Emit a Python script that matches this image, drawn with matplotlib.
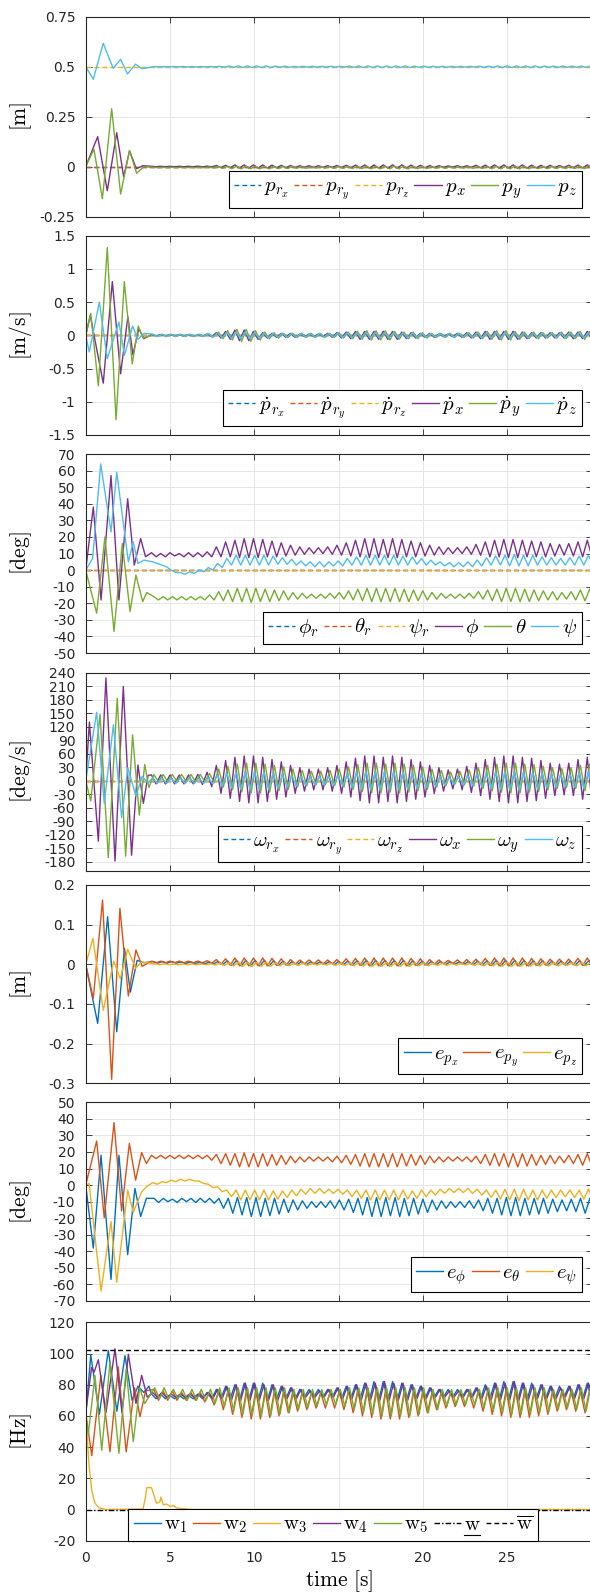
import numpy as np
import matplotlib.pyplot as plt
from matplotlib.lines import Line2D
from matplotlib.mathtext import MathTextParser

# sampled extrema: transient part listed point by point, then the steady
# oscillation as (peak, trough) pairs every HALF seconds from T_SS on
T_END = 30.0
T_SS = 3.9
HALF = 0.275
t_ref = [0.0, T_END]

# ---------------- position [m] ----------------
p_ref = [0.0, 0.0, 0.5]
px_t = [0, 0.71, 1.28, 1.84, 2.25, 2.6, 3.0, 3.4]
px_v = [0, 0.15, -0.12, 0.17, -0.05, 0.08, -0.01, 0.005]
px_hi = [.002, .002, .002, .002, .002, .003, .003, .006, .007, .009, .009, .009,
         .009, .008, .007, .006, .005, .005, .005, .005, .006, .007, .008, .009,
         .009, .009, .009, .009, .008, .007, .006, .005, .004, .005, .005, .007,
         .008, .009, .009, .009, .009, .008, .007, .007, .006, .007, .008, .009]
px_lo = [0, 0, 0, 0, 0, -.001, -.001, -.004, -.005, -.007, -.007, -.007,
         -.007, -.006, -.005, -.004, -.003, -.003, -.003, -.003, -.004, -.005, -.006, -.007,
         -.007, -.007, -.007, -.007, -.006, -.005, -.004, -.003, -.002, -.003, -.003, -.005,
         -.006, -.007, -.007, -.007, -.007, -.006, -.005, -.005, -.004, -.005, -.006, -.007]
py_t = [0, 0.49, 0.99, 1.54, 2.07, 2.6, 3.02, 3.45]
py_v = [0, 0.087, -0.16, 0.29, -0.137, 0.08, -0.033, 0.0]
py_hi = [-.003, -.003, -.003, -.003, -.003, -.003, -.002, 0, .002, .003, .003, .003,
         .003, .002, .001, 0, 0, -.001, -.001, 0, 0, .001, .002, .003,
         .003, .003, .003, .003, .002, .001, 0, 0, -.001, -.001, 0, .001,
         .002, .003, .003, .003, .003, .002, .002, .001, .001, .001, .002, .003]
py_lo = [-.005, -.005, -.005, -.005, -.005, -.005, -.006, -.008, -.010, -.011, -.011, -.011,
         -.011, -.010, -.009, -.008, -.008, -.007, -.007, -.008, -.008, -.009, -.010, -.011,
         -.011, -.011, -.011, -.011, -.010, -.009, -.008, -.008, -.007, -.007, -.008, -.009,
         -.010, -.011, -.011, -.011, -.011, -.010, -.010, -.009, -.009, -.009, -.010, -.011]
pz_t = [0, 0.45, 1.04, 1.63, 2.07, 2.48, 2.96, 3.32]
pz_v = [0.5, 0.437, 0.617, 0.492, 0.537, 0.464, 0.513, 0.49]
pz_hi = [.501, .501, .501, .501, .501, .501, .501, .502, .503, .504, .504, .504,
         .504, .503, .503, .502, .502, .502, .502, .502, .502, .503, .504, .504,
         .504, .504, .504, .504, .503, .503, .502, .502, .502, .502, .502, .503,
         .503, .504, .504, .504, .504, .504, .503, .503, .503, .503, .503, .504]
pz_lo = [.499, .499, .499, .499, .499, .499, .499, .498, .497, .496, .496, .496,
         .496, .497, .497, .498, .498, .498, .498, .498, .498, .497, .496, .496,
         .496, .496, .496, .496, .497, .497, .498, .498, .498, .498, .498, .497,
         .497, .496, .496, .496, .496, .496, .497, .497, .497, .497, .497, .496]

# ---------------- velocity [m/s] ----------------
v_ref = [0.0, 0.0, 0.0]
vx_t = [0, 0.27, 1.04, 1.58, 2.07, 2.5, 2.8, 3.15, 3.45]
vx_v = [0, 0.3, -0.72, 0.81, -0.58, 0.28, -0.29, 0.1, -0.05]
vx_hi = [.01, .01, .01, .01, .01, .01, .02, .04, .06, .08, .08, .06,
         .04, .03, .03, .03, .02, .02, .02, .03, .04, .05, .06, .06,
         .06, .06, .06, .05, .04, .03, .03, .02, .02, .03, .04, .05,
         .06, .06, .06, .06, .05, .04, .04, .04, .04, .05, .05, .06]
vx_lo = [-.01, -.01, -.01, -.01, -.01, -.01, -.02, -.04, -.06, -.08, -.08, -.06,
         -.04, -.03, -.03, -.03, -.02, -.02, -.02, -.03, -.04, -.05, -.06, -.06,
         -.06, -.06, -.06, -.05, -.04, -.03, -.03, -.02, -.02, -.03, -.04, -.05,
         -.06, -.06, -.06, -.06, -.05, -.04, -.04, -.04, -.04, -.05, -.05, -.06]
vy_t = [0, 0.3, 0.75, 1.28, 1.8, 2.29, 2.76, 3.12, 3.4]
vy_v = [0, 0.33, -0.76, 1.32, -1.27, 0.81, -0.43, 0.14, -0.04]
vy_hi = [.01, .01, .01, .01, .01, .01, .02, .05, .07, .09, .09, .07,
         .05, .04, .03, .03, .03, .03, .03, .03, .04, .05, .06, .07,
         .07, .07, .06, .05, .05, .04, .03, .03, .03, .03, .04, .05,
         .06, .07, .07, .06, .05, .05, .04, .04, .05, .05, .06, .06]
vy_lo = [-.01, -.01, -.01, -.01, -.01, -.01, -.02, -.05, -.07, -.09, -.09, -.07,
         -.05, -.04, -.03, -.03, -.03, -.03, -.03, -.03, -.04, -.05, -.06, -.07,
         -.07, -.07, -.06, -.05, -.05, -.04, -.03, -.03, -.03, -.03, -.04, -.05,
         -.06, -.07, -.07, -.06, -.05, -.05, -.04, -.04, -.05, -.05, -.06, -.06]
vz_t = [0, 0.21, 0.81, 1.28, 1.97, 2.3, 2.78, 3.1, 3.45]
vz_v = [0, -0.25, 0.5, -0.35, 0.2, -0.3, 0.14, -0.06, 0.03]
vz_hi = [.02, .02, .02, .02, .02, .02, .03, .035, .045, .05, .05, .045,
         .035, .03, .03, .03, .03, .03, .03, .03, .035, .04, .04, .045,
         .045, .04, .04, .04, .035, .03, .03, .03, .03, .03, .035, .04,
         .04, .045, .045, .04, .04, .035, .035, .035, .035, .04, .04, .04]
vz_lo = [-.02, -.02, -.02, -.02, -.02, -.02, -.03, -.035, -.045, -.05, -.05, -.045,
         -.035, -.03, -.03, -.03, -.03, -.03, -.03, -.03, -.035, -.04, -.04, -.045,
         -.045, -.04, -.04, -.04, -.035, -.03, -.03, -.03, -.03, -.03, -.035, -.04,
         -.04, -.045, -.045, -.04, -.04, -.035, -.035, -.035, -.035, -.04, -.04, -.04]

# ---------------- attitude [deg] ----------------
a_ref = [0.0, 0.0, 0.0]
phi_t = [0, 0.45, 0.91, 1.5, 1.97, 2.49, 2.88, 3.26, 3.55]
phi_v = [0, 38, -18, 57, -18, 43, 3, 19, 8]
phi_hi = [10.5, 10, 10.5, 10, 10.5, 10.5, 11, 14, 17, 18, 19, 19,
          18.5, 17.5, 16.5, 15, 14, 13.5, 13.5, 14, 15, 16.5, 18, 19,
          19, 18.5, 19, 18.5, 17.5, 16.5, 15, 14, 13.5, 13.5, 14, 15.5,
          17, 18, 18.5, 18.5, 18, 17.5, 17, 16, 15.5, 16, 17, 18]
phi_lo = [8, 8, 8.5, 8, 8, 8, 8, 8, 8, 7.5, 7.5, 7.5,
          8, 8, 8.5, 9, 9.5, 10, 10, 9.5, 9, 8.5, 8, 7.5,
          7.5, 7.5, 7.5, 8, 8, 8.5, 9, 9.5, 10, 10, 9.5, 9,
          8, 8, 7.5, 7.5, 8, 8, 8, 8.5, 9, 8.5, 8, 8]
th_t = [0, 0.65, 1.14, 1.68, 2.17, 2.63, 2.98, 3.38, 3.62]
th_v = [0, -26, 20, -37, 16, -25, -3, -19, -13.5]
th_hi = [-16, -16, -16, -16, -16, -16, -15, -13, -12, -11, -11, -11,
         -11.5, -12, -12.5, -13.5, -14, -14.5, -14.5, -14, -13.5, -12.5, -11.5, -11,
         -11, -11, -11, -11.5, -12, -12.5, -13.5, -14, -14.5, -14.5, -14, -13,
         -12, -11.5, -11, -11, -11.5, -12, -12.5, -13, -13.5, -13, -12, -11.5]
th_lo = [-18, -18, -18, -18, -18, -18, -18, -18.5, -19, -19, -19.5, -19,
         -19, -18.5, -18, -17.5, -17, -17, -17, -17, -17.5, -18, -18.5, -19,
         -19, -19, -19, -19, -18.5, -18, -17.5, -17, -17, -17, -17, -17.5,
         -18.5, -19, -19, -19, -19, -18.5, -18, -18, -17.5, -18, -18.5, -19]
psi_t = [0, 0.41, 0.89, 1.5, 1.84, 2.53, 2.82, 3.1, 3.45]
psi_v = [0, 7, 64, 23, 59, 5, 17, 4, 6]
psi_hi = [5, 3, 0, -1.5, -1, 0, 1.5, 4, 7, 9, 9, 9,
          9, 8.5, 7.5, 6.5, 5.5, 5, 5, 5, 5.5, 7, 8, 9,
          9, 9, 9, 8.5, 8, 7, 6, 5, 4.5, 4.5, 5, 6,
          7.5, 8.5, 9, 9.5, 9, 9, 8, 7.5, 7, 7.5, 8.5, 9]
psi_lo = [4, 2, -1.5, -2.5, -2, -1, 0, 1.5, 3, 3, 3, 3,
          3, 3.5, 3.5, 3, 2.5, 2, 2, 2.5, 2.5, 3, 3, 3,
          3, 3, 3, 3, 3.5, 3, 3, 2.5, 2, 2, 2, 2.5,
          3, 3, 2.5, 2.5, 2.5, 3, 3, 3, 3, 3, 3, 2.5]

# ---------------- body rates [deg/s] ----------------
w_ref = [0.0, 0.0, 0.0]
wx_t = [0, 0.22, 0.75, 1.2, 1.74, 2.23, 2.72, 3.1, 3.42, 3.7]
wx_v = [0, 130, -134, 228, -178, 209, -165, 35, -50, 12]
wx_hi = [13, 13, 13, 13, 13, 14, 19, 34, 45, 52, 55, 55,
         52, 47, 42, 34, 29, 26, 26, 29, 34, 42, 50, 55,
         55, 52, 55, 52, 47, 42, 34, 29, 24, 26, 32, 39,
         47, 52, 55, 55, 52, 50, 45, 39, 37, 39, 47, 52]
wx_lo = [-7, -7, -7, -7, -7, -8, -13, -28, -39, -46, -49, -49,
         -46, -41, -36, -28, -23, -20, -20, -23, -28, -36, -44, -49,
         -49, -46, -49, -46, -41, -36, -28, -23, -18, -20, -26, -33,
         -41, -46, -49, -49, -46, -44, -39, -33, -31, -33, -41, -46]
wy_t = [0, 0.3, 0.85, 1.34, 1.87, 2.37, 2.78, 3.18, 3.5, 3.75]
wy_v = [0, -45, 147, -170, 183, -167, 102, -76, 36, -15]
wy_hi = [14, 14, 14, 14, 14, 14, 16, 26, 32, 37, 39, 39,
         37, 34, 31, 26, 23, 21, 21, 23, 26, 31, 36, 39,
         39, 37, 39, 37, 34, 31, 26, 23, 19, 21, 24, 29,
         34, 37, 39, 39, 37, 36, 32, 29, 27, 29, 34, 37]
wy_lo = [-2, -2, -2, -2, -2, -2, -4, -14, -20, -25, -27, -27,
         -25, -22, -19, -14, -11, -9, -9, -11, -14, -19, -24, -27,
         -27, -25, -27, -25, -22, -19, -14, -11, -7, -9, -12, -17,
         -22, -25, -27, -27, -25, -24, -20, -17, -15, -17, -22, -25]
wz_t = [0, 0.65, 1.1, 1.64, 2.13, 2.5, 2.98, 3.35, 3.7]
wz_v = [0, 152, -50, 124, -82, 29, -34, 10, -5]
wz_hi = [6, 6, 6, 6, 6, 6, 7, 12, 16, 19, 20, 20,
         19, 17, 15, 12, 10, 9, 9, 10, 12, 15, 18, 20,
         20, 19, 20, 19, 17, 15, 12, 10, 8, 9, 11, 14,
         17, 19, 20, 20, 19, 18, 16, 14, 13, 14, 17, 19]
wz_lo = [-6, -6, -6, -6, -6, -6, -7, -12, -16, -19, -20, -20,
         -19, -17, -15, -12, -10, -9, -9, -10, -12, -15, -18, -20,
         -20, -19, -20, -19, -17, -15, -12, -10, -8, -9, -11, -14,
         -17, -19, -20, -20, -19, -18, -16, -14, -13, -14, -17, -19]

# ---------------- position error [m] ----------------
epx_t = [0, 0.71, 1.3, 1.84, 2.3, 2.65, 3.05, 3.45]
epx_v = [0, -0.149, 0.12, -0.17, 0.04, -0.07, 0.01, 0.004]
epx_hi = [.007, .007, .007, .006, .006, .005, .005, .007, .009, .010, .010, .010,
          .010, .009, .008, .007, .007, .006, .006, .007, .007, .008, .009, .010,
          .010, .010, .010, .010, .009, .008, .007, .007, .006, .006, .007, .008,
          .009, .010, .010, .010, .010, .009, .009, .008, .008, .008, .009, .010]
epx_lo = [.003, .003, .003, .002, .002, .001, .001, -.001, -.003, -.004, -.004, -.004,
          -.004, -.003, -.002, -.001, -.001, 0, 0, -.001, -.001, -.002, -.003, -.004,
          -.004, -.004, -.004, -.004, -.003, -.002, -.001, -.001, 0, 0, -.001, -.002,
          -.003, -.004, -.004, -.004, -.004, -.003, -.003, -.002, -.002, -.002, -.003, -.004]
epy_t = [0, 0.45, 1.0, 1.54, 2.03, 2.53, 2.98, 3.35]
epy_v = [0, -0.086, 0.162, -0.29, 0.141, -0.08, 0.036, -0.005]
epy_hi = [.008, .008, .008, .008, .008, .008, .009, .012, .014, .016, .016, .016,
          .016, .015, .014, .012, .011, .011, .011, .011, .012, .014, .015, .016,
          .016, .016, .016, .016, .015, .014, .012, .011, .010, .011, .012, .013,
          .015, .016, .016, .016, .016, .015, .014, .013, .013, .013, .015, .016]
epy_lo = [.004, .004, .004, .004, .004, .004, .003, 0, -.002, -.004, -.004, -.004,
          -.004, -.003, -.002, 0, .001, .001, .001, .001, 0, -.002, -.003, -.004,
          -.004, -.004, -.004, -.004, -.003, -.002, 0, .001, .002, .001, 0, -.001,
          -.003, -.004, -.004, -.004, -.004, -.003, -.002, -.001, -.001, -.001, -.003, -.004]
epz_t = [0, 0.43, 1.04, 1.66, 2.05, 2.49, 2.96, 3.32]
epz_v = [0, 0.065, -0.116, 0.008, -0.036, 0.038, -0.01, 0.006]
epz_hi = [.001, .001, .001, .001, .001, .001, .002, .003, .004, .005, .005, .005,
          .005, .004, .004, .003, .003, .002, .002, .003, .003, .004, .005, .005,
          .005, .005, .005, .005, .004, .004, .003, .003, .002, .002, .003, .004,
          .004, .005, .005, .005, .005, .005, .004, .004, .003, .004, .004, .005]
epz_lo = [-.001, -.001, -.001, -.001, -.001, -.001, -.002, -.003, -.004, -.005, -.005, -.005,
          -.005, -.004, -.004, -.003, -.003, -.002, -.002, -.003, -.003, -.004, -.005, -.005,
          -.005, -.005, -.005, -.005, -.004, -.004, -.003, -.003, -.002, -.002, -.003, -.004,
          -.004, -.005, -.005, -.005, -.005, -.005, -.004, -.004, -.003, -.004, -.004, -.005]

# ---------------- attitude error [deg] ----------------
ephi_t = [0, 0.45, 0.91, 1.5, 1.97, 2.49, 2.92, 3.26, 3.6]
ephi_v = [0, -38, 18, -57, 18, -42, -2, -19, -8]
ephi_hi = [-8, -8, -8.5, -8, -8, -8, -8, -8, -8, -7.5, -7.5, -7.5,
           -8, -8, -8.5, -9, -9.5, -10, -10, -9.5, -9, -8.5, -8, -7.5,
           -7.5, -7.5, -7.5, -8, -8, -8.5, -9, -9.5, -10, -10, -9.5, -9,
           -8, -8, -7.5, -7.5, -8, -8, -8, -8.5, -9, -8.5, -8, -8]
ephi_lo = [-10.5, -10, -10.5, -10, -10.5, -10.5, -11, -14, -17, -18, -19, -19,
           -18.5, -17.5, -16.5, -15, -14, -13.5, -13.5, -14, -15, -16.5, -18, -19,
           -19, -18.5, -19, -18.5, -17.5, -16.5, -15, -14, -13.5, -13.5, -14, -15.5,
           -17, -18, -18.5, -18.5, -18, -17.5, -17, -16, -15.5, -16, -17, -18]
eth_t = [0, 0.65, 1.1, 1.68, 2.13, 2.59, 2.96, 3.32, 3.6]
eth_v = [0, 26.6, -19.7, 37.7, -15.6, 25.2, 3, 19.6, 13]
eth_hi = [18, 18, 18, 18, 18, 18, 18, 18.5, 19, 19, 19.5, 19,
          19, 18.5, 18, 17.5, 17, 17, 17, 17, 17.5, 18, 18.5, 19,
          19, 19, 19, 19, 18.5, 18, 17.5, 17, 17, 17, 17, 17.5,
          18.5, 19, 19, 19, 19, 18.5, 18, 18, 17.5, 18, 18.5, 19]
eth_lo = [16, 16, 16, 16, 16, 16, 15, 13, 12, 11, 11, 11,
          11.5, 12, 12.5, 13.5, 14, 14.5, 14.5, 14, 13.5, 12.5, 11.5, 11,
          11, 11, 11, 11.5, 12, 12.5, 13.5, 14, 14.5, 14.5, 14, 13,
          12, 11.5, 11, 11, 11.5, 12, 12.5, 13, 13.5, 13, 12, 11.5]
epsi_t = [0, 0.2, 0.91, 1.5, 1.84, 2.49, 2.82, 3.32, 3.6]
epsi_v = [0, 1, -64, -22, -58.7, -3, -16.4, -4, -1]
epsi_hi = [1.5, 2, 3, 3.5, 3.5, 2.5, 0.5, -1, -3, -3, -3, -3,
           -3, -3.5, -3.5, -3, -2.5, -2, -2, -2.5, -2.5, -3, -3, -3,
           -3, -3, -3, -3, -3.5, -3, -3, -2.5, -2, -2, -2, -2.5,
           -3, -3, -2.5, -2.5, -2.5, -3, -3, -3, -3, -3, -3, -2.5]
epsi_lo = [0.5, 1.5, 2, 2.5, 2.5, 1, -1.5, -4, -7, -9, -9, -9,
           -9, -8.5, -7.5, -6.5, -5.5, -5, -5, -5, -5.5, -7, -8, -9,
           -9, -9, -9, -8.5, -8, -7, -6, -5, -4.5, -4.5, -5, -6,
           -7.5, -8.5, -9, -9.5, -9, -9, -8, -7.5, -7, -7.5, -8.5, -9]

# ---------------- rotor speeds [Hz] ----------------
w_min = 0.0
w_max = 102.0
w1_t = [0, 0.3, 0.81, 1.34, 1.85, 2.33, 2.75, 3.1, 3.45, 3.75]
w1_v = [60, 99, 61, 102, 63, 98.6, 70, 79, 75, 79]
w1_hi = [74, 74, 73, 73, 73, 74, 75, 77, 79, 80, 81, 81,
         81, 80, 79, 78, 77, 77, 77, 77, 78, 79, 80, 81,
         82, 82, 82, 81, 80, 79, 78, 77, 77, 77, 77, 78,
         80, 81, 82, 82, 81, 81, 80, 79, 79, 79, 80, 81]
w1_lo = [71, 71, 71, 71, 71, 71, 71, 71, 71, 70, 70, 70,
         70, 71, 71, 71, 72, 72, 72, 72, 71, 71, 71, 70,
         70, 70, 70, 70, 71, 71, 72, 72, 72, 72, 72, 71,
         71, 70, 70, 70, 70, 71, 71, 71, 72, 71, 71, 70]
w2_t = [0, 0.36, 0.9, 1.44, 1.93, 2.4, 2.9, 3.22, 3.55]
w2_v = [62, 34.5, 86, 37, 91.5, 37, 78, 59.5, 76]
w2_hi = [77, 76, 76, 75, 75, 75, 75, 76, 76, 77, 77, 77,
         76, 76, 76, 76, 75, 75, 75, 75, 76, 76, 77, 77,
         77, 77, 77, 76, 76, 76, 75, 75, 75, 75, 75, 76,
         76, 77, 77, 77, 77, 76, 76, 76, 76, 76, 76, 77]
w2_lo = [70, 70, 70, 70, 70, 69, 67, 64, 61, 59, 58, 58,
         59, 60, 62, 63, 64, 65, 65, 65, 64, 62, 60, 59,
         58, 58, 58, 59, 60, 62, 64, 65, 66, 66, 65, 63,
         61, 60, 59, 59, 59, 60, 61, 63, 64, 63, 62, 61]
w3_t = [0, 0.1, 0.2, 0.36, 0.55, 0.8, 1.2, 3.4, 3.55, 3.62, 3.9, 4.2, 4.4,
        4.46, 4.6, 4.8, 5.0, 5.2, 5.4, 6.0, 6.5, 30]
w3_v = [58, 45, 28, 12, 4, 1, 0, 0.3, 8, 14, 14, 4, 5, 8, 3, 3.5, 2, 2.5, 1, 0.3, 0, 0]
w4_t = [0, 0.35, 0.5, 0.75, 1.2, 1.74, 2.15, 2.53, 2.98, 3.32, 3.65]
w4_v = [62, 91, 88, 96, 62, 103, 62, 99.5, 68, 86, 72]
w4_hi = [75, 75, 74, 74, 74, 74, 75, 77, 79, 80, 81, 81,
         80, 80, 79, 78, 77, 76, 76, 77, 78, 79, 80, 81,
         81, 82, 81, 81, 80, 79, 78, 77, 76, 76, 77, 78,
         79, 81, 81, 82, 81, 80, 80, 79, 78, 79, 80, 81]
w4_lo = [72, 72, 72, 72, 72, 72, 71, 71, 70, 70, 70, 70,
         70, 70, 71, 71, 72, 72, 72, 72, 71, 71, 70, 70,
         70, 70, 70, 70, 71, 71, 72, 72, 72, 72, 72, 71,
         70, 70, 70, 70, 70, 71, 71, 71, 72, 71, 71, 70]
w5_t = [0, 0.15, 0.55, 0.95, 1.44, 1.97, 2.4, 2.82, 3.2, 3.5]
w5_v = [60, 48, 86, 38, 94, 36, 90, 43.5, 78, 68]
w5_hi = [78, 78, 77, 77, 77, 77, 77, 78, 78, 78, 78, 78,
         78, 78, 78, 77, 77, 77, 77, 77, 77, 78, 78, 78,
         78, 78, 78, 78, 78, 78, 77, 77, 77, 77, 77, 77,
         78, 78, 78, 78, 78, 78, 78, 77, 77, 77, 78, 78]
w5_lo = [71, 71, 71, 70, 70, 70, 68, 66, 63, 61, 60, 60,
         60, 61, 62, 64, 65, 66, 67, 67, 66, 64, 62, 61,
         60, 60, 60, 60, 61, 62, 64, 66, 67, 67, 67, 65,
         63, 62, 61, 61, 61, 62, 63, 64, 65, 64, 63, 62]

# ---------------- style ----------------
BLUE, ORANGE, YELLOW = '#0072BD', '#D95319', '#EDB120'
PURPLE, GREEN, LBLUE = '#7E2F8E', '#77AC30', '#4DBEEE'
DASH = (0, (3.5, 2.2))
W, H = 590, 1595
LEFT, RIGHT = 85.7, 591.5
ROWS = [(16.7, 216.7), (235.7, 435), (454, 653), (672.5, 871),
        (885, 1083.3), (1102.3, 1301), (1322.3, 1540.7)]

plt.rcParams['font.family'] = ['DejaVu Sans']
plt.rcParams['mathtext.fontset'] = 'cm'
plt.rcParams['axes.unicode_minus'] = False


def trace(t_tr, v_tr, hi, lo, shift=0.0):
    ts = T_SS + shift + HALF * np.arange(2 * len(hi))
    vs = np.column_stack([hi, lo]).ravel()
    return np.concatenate([t_tr, ts]), np.concatenate([v_tr, vs])


def style_axes(ax, ylim, yticks, ylabels, ylabel, last=False):
    ax.set_xlim(0, T_END)
    ax.set_ylim(*ylim)
    ax.set_xticks([0, 5, 10, 15, 20, 25])
    ax.set_yticks(yticks)
    ax.set_yticklabels(ylabels)
    if not last:
        ax.set_xticklabels([])
    ax.tick_params(direction='in', top=True, right=True, length=4.5, width=0.6,
                   labelsize=10, pad=7.5, colors='#262626')
    ax.grid(True, color='#e6e6e6', lw=0.7)
    ax.set_axisbelow(True)
    for s in ax.spines.values():
        s.set_linewidth(0.8)
        s.set_color('#262626')
    ax.set_ylabel(ylabel, fontsize=15.5)
    ax.yaxis.set_label_coords(-0.102, 0.5)


def add_legend(ax, rows, loc='lower right', anchor=None):
    top, bot = rows
    if anchor is None:
        anchor = (0.981, 9.0 / (bot - top))
    n = len(ax.get_legend_handles_labels()[0])
    leg = ax.legend(loc=loc, bbox_to_anchor=anchor, ncol=n, fontsize=15,
                    handlelength=1.3, handletextpad=0.15, columnspacing=0.25,
                    borderpad=0.25, borderaxespad=0, fancybox=False,
                    framealpha=1, edgecolor='black')
    leg.get_frame().set_linewidth(0.8)
    return leg


def main():
    fig = plt.figure(figsize=(W / 100, H / 100), dpi=100)
    axes = []
    for top, bot in ROWS:
        axes.append(fig.add_axes([LEFT / W, 1 - bot / H, (RIGHT - LEFT) / W, (bot - top) / H]))
    lw = 1.0

    # position
    ax = axes[0]
    for val, c, lab in zip(p_ref, [BLUE, ORANGE, YELLOW],
                           [r'$p_{r_x}$', r'$p_{r_y}$', r'$p_{r_z}$']):
        ax.plot(t_ref, [val, val], color=c, ls=DASH, lw=lw, label=lab)
    for (tt, vv, hi, lo, sh), c, lab in zip(
            [(px_t, px_v, px_hi, px_lo, 0.0), (py_t, py_v, py_hi, py_lo, 0.1),
             (pz_t, pz_v, pz_hi, pz_lo, 0.2)],
            [PURPLE, GREEN, LBLUE], [r'$p_x$', r'$p_y$', r'$p_z$']):
        ax.plot(*trace(tt, vv, hi, lo, sh), color=c, lw=lw, label=lab)
    style_axes(ax, (-0.25, 0.75), [-0.25, 0, 0.25, 0.5, 0.75],
               ['-0.25', '0', '0.25', '0.5', '0.75'], r'$[\mathrm{m}]$')
    add_legend(ax, ROWS[0])

    # velocity
    ax = axes[1]
    for val, c, lab in zip(v_ref, [BLUE, ORANGE, YELLOW],
                           [r'$\dot{p}_{r_x}$', r'$\dot{p}_{r_y}$', r'$\dot{p}_{r_z}$']):
        ax.plot(t_ref, [val, val], color=c, ls=DASH, lw=lw, label=lab)
    for (tt, vv, hi, lo, sh), c, lab in zip(
            [(vx_t, vx_v, vx_hi, vx_lo, 0.0), (vy_t, vy_v, vy_hi, vy_lo, 0.12),
             (vz_t, vz_v, vz_hi, vz_lo, 0.06)],
            [PURPLE, GREEN, LBLUE], [r'$\dot{p}_x$', r'$\dot{p}_y$', r'$\dot{p}_z$']):
        ax.plot(*trace(tt, vv, hi, lo, sh), color=c, lw=lw, label=lab)
    style_axes(ax, (-1.5, 1.5), [-1.5, -1, -0.5, 0, 0.5, 1, 1.5],
               ['-1.5', '-1', '-0.5', '0', '0.5', '1', '1.5'], r'$[\mathrm{m/s}]$')
    add_legend(ax, ROWS[1])

    # attitude
    ax = axes[2]
    for val, c, lab in zip(a_ref, [BLUE, ORANGE, YELLOW],
                           [r'$\phi_r$', r'$\theta_r$', r'$\psi_r$']):
        ax.plot(t_ref, [val, val], color=c, ls=DASH, lw=lw, label=lab)
    for (tt, vv, hi, lo, sh), c, lab in zip(
            [(phi_t, phi_v, phi_hi, phi_lo, 0.0), (th_t, th_v, th_hi, th_lo, 0.14),
             (psi_t, psi_v, psi_hi, psi_lo, 0.07)],
            [PURPLE, GREEN, LBLUE], [r'$\phi$', r'$\theta$', r'$\psi$']):
        ax.plot(*trace(tt, vv, hi, lo, sh), color=c, lw=lw, label=lab)
    yt = list(range(-50, 71, 10))
    style_axes(ax, (-50, 70), yt, [str(v) for v in yt], r'$[\mathrm{deg}]$')
    add_legend(ax, ROWS[2])

    # body rates
    ax = axes[3]
    for val, c, lab in zip(w_ref, [BLUE, ORANGE, YELLOW],
                           [r'$\omega_{r_x}$', r'$\omega_{r_y}$', r'$\omega_{r_z}$']):
        ax.plot(t_ref, [val, val], color=c, ls=DASH, lw=lw, label=lab)
    for (tt, vv, hi, lo, sh), c, lab in zip(
            [(wx_t, wx_v, wx_hi, wx_lo, 0.0), (wy_t, wy_v, wy_hi, wy_lo, 0.14),
             (wz_t, wz_v, wz_hi, wz_lo, 0.07)],
            [PURPLE, GREEN, LBLUE], [r'$\omega_x$', r'$\omega_y$', r'$\omega_z$']):
        ax.plot(*trace(tt, vv, hi, lo, sh), color=c, lw=lw, label=lab)
    yt = list(range(-180, 241, 30))
    style_axes(ax, (-200, 240), yt, [str(v) for v in yt], r'$[\mathrm{deg/s}]$')
    add_legend(ax, ROWS[3])

    # position error
    ax = axes[4]
    for (tt, vv, hi, lo, sh), c, lab in zip(
            [(epx_t, epx_v, epx_hi, epx_lo, 0.1), (epy_t, epy_v, epy_hi, epy_lo, 0.0),
             (epz_t, epz_v, epz_hi, epz_lo, 0.2)],
            [BLUE, ORANGE, YELLOW], [r'$e_{p_x}$', r'$e_{p_y}$', r'$e_{p_z}$']):
        ax.plot(*trace(tt, vv, hi, lo, sh), color=c, lw=lw, label=lab)
    style_axes(ax, (-0.3, 0.2), [-0.3, -0.2, -0.1, 0, 0.1, 0.2],
               ['-0.3', '-0.2', '-0.1', '0', '0.1', '0.2'], r'$[\mathrm{m}]$')
    add_legend(ax, ROWS[4])

    # attitude error
    ax = axes[5]
    for (tt, vv, hi, lo, sh), c, lab in zip(
            [(ephi_t, ephi_v, ephi_hi, ephi_lo, 0.15), (eth_t, eth_v, eth_hi, eth_lo, 0.0),
             (epsi_t, epsi_v, epsi_hi, epsi_lo, 0.07)],
            [BLUE, ORANGE, YELLOW], [r'$e_\phi$', r'$e_\theta$', r'$e_\psi$']):
        ax.plot(*trace(tt, vv, hi, lo, sh), color=c, lw=lw, label=lab)
    yt = list(range(-70, 51, 10))
    style_axes(ax, (-70, 50), yt, [str(v) for v in yt], r'$[\mathrm{deg}]$')
    add_legend(ax, ROWS[5])

    # rotor speeds
    ax = axes[6]
    ax.plot(*trace(w1_t, w1_v, w1_hi, w1_lo, 0.0), color=BLUE, lw=lw, label=r'$\mathrm{w}_1$')
    ax.plot(*trace(w2_t, w2_v, w2_hi, w2_lo, 0.14), color=ORANGE, lw=lw, label=r'$\mathrm{w}_2$')
    ax.plot(w3_t, w3_v, color=YELLOW, lw=lw, label=r'$\mathrm{w}_3$')
    ax.plot(*trace(w4_t, w4_v, w4_hi, w4_lo, 0.07), color=PURPLE, lw=lw, label=r'$\mathrm{w}_4$')
    ax.plot(*trace(w5_t, w5_v, w5_hi, w5_lo, 0.2), color=GREEN, lw=lw, label=r'$\mathrm{w}_5$')
    try:
        MathTextParser('path').parse(r'$\underline{\mathrm{w}}$')
        under_lab, manual = r'$\underline{\mathrm{w}}$', False
    except Exception:
        under_lab, manual = r'$\mathrm{w}$', True
    ax.plot(t_ref, [w_min, w_min], color='black', lw=lw,
            ls=(0, (4, 1.5, 1, 1.5)), label=under_lab)
    ax.plot(t_ref, [w_max, w_max], color='black', lw=lw, ls=DASH,
            label=r'$\overline{\mathrm{w}}$')
    yt = list(range(-20, 121, 20))
    style_axes(ax, (-20, 120), yt, [str(v) for v in yt], r'$[\mathrm{Hz}]$', last=True)
    ax.set_xlabel(r'$\mathrm{time\ [s]}$', fontsize=15.5, labelpad=2)
    leg = add_legend(ax, ROWS[6], loc='lower center', anchor=(0.4895, 0.0))

    if manual:
        fig.canvas.draw()
        bb = leg.get_texts()[5].get_window_extent()
        inv = fig.transFigure.inverted()
        (x0, y0), (x1, _) = inv.transform([[bb.x0, bb.y0 - 1.5], [bb.x1, bb.y0 - 1.5]])
        fig.add_artist(Line2D([x0, x1], [y0, y0], color='black', lw=0.8))

    fig.savefig('out.png', dpi=100)


if __name__ == '__main__':
    main()
